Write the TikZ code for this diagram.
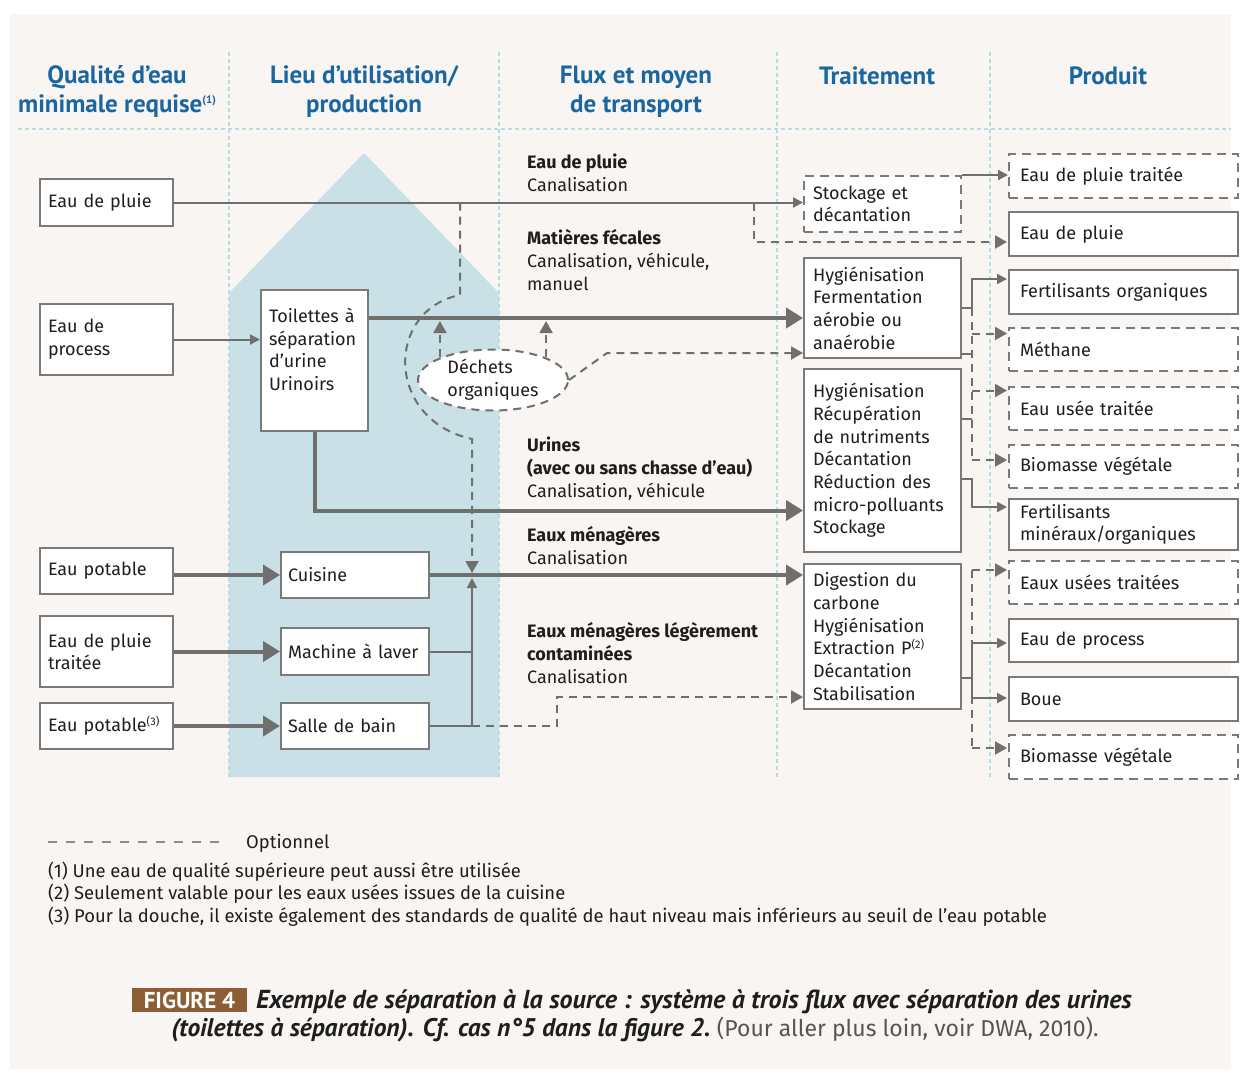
\documentclass[tikz,border=0pt]{standalone}
\usepackage{fontspec}
\setmainfont{Fira Sans}
\newfontfamily\hdfont{PT Sans}
\usetikzlibrary{arrows.meta,shapes.geometric}
\definecolor{bgc}{HTML}{F8F5F2}
\definecolor{housec}{HTML}{C9E1E6}
\definecolor{hdblue}{HTML}{1A66A0}
\definecolor{sepc}{HTML}{B8DCE4}
\definecolor{linec}{HTML}{6F6F6F}
\definecolor{boxc}{HTML}{7A7A7A}
\definecolor{txt}{HTML}{1E1E1E}
\definecolor{figbrown}{HTML}{8C5E35}
\definecolor{capgray}{HTML}{555555}
\newcommand\smallsup[2]{\raisebox{#2}{\fontsize{11}{11}\selectfont #1}}
\begin{document}
\begin{tikzpicture}[x=1pt,y=-1pt,
  every node/.style={text=txt},
  bodyf/.style={font=\fontsize{18}{22.7}\selectfont},
  box/.style={draw=boxc, line width=2pt, fill=white, anchor=north west, align=left, inner xsep=8pt, inner ysep=0pt, bodyf},
  tbox/.style={box, inner xsep=9pt, text width=139pt},
  pbox/.style={box, inner xsep=11pt, text width=207pt},
  pdbox/.style={pbox, dash pattern=on 9pt off 6pt},
  thinl/.style={draw=linec, line width=2pt},
  thickl/.style={draw=linec, line width=4pt},
  dsh/.style={draw=linec, line width=2pt, dash pattern=on 8pt off 6pt},
  thinarr/.style={thinl, -{Triangle[length=10pt,width=10pt]}},
  thickarr/.style={thickl, -{Triangle[length=17pt,width=20pt]}},
  dasharr/.style={dsh, -{Triangle[length=12pt,width=13pt]}},
  sep/.style={draw=sepc, line width=1.2pt, dash pattern=on 4pt off 3pt},
  hd/.style={font=\hdfont\bfseries\fontsize{25}{29}\selectfont, text=hdblue, align=center, anchor=base},
  flux/.style={anchor=base west, align=left, bodyf, inner sep=0pt},
  fnote/.style={anchor=base west, align=left, inner sep=0pt, font=\fontsize{18.4}{22.5}\selectfont}
]
% background
\fill[white] (0,0) rectangle (1241,1079);
\fill[bgc] (10,14) rectangle (1231,1069);
% house
\fill[housec] (229,777) -- (229,293) -- (364,153) -- (499,293) -- (499,777) -- cycle;
% separators
\draw[sep] (229,52) -- (229,778);
\draw[sep] (499,52) -- (499,778);
\draw[sep] (777,52) -- (777,778);
\draw[sep] (990,52) -- (990,778);
\draw[sep] (18,129) -- (1231,129);

% headers (base = last line)
\node[hd] (h1) at (117,112.5) {Qualité d’eau\\minimale requise\smallsup{(1)}{9pt}};
\node[hd] (h2) at (364,112.5) {Lieu d’utilisation/\\production};
\node[hd] (h3) at (636,112.5) {Flux et moyen\\de transport};
\node[hd] (h4) at (877,84) {Traitement};
\node[hd] (h5) at (1108,84) {Produit};

% left boxes
\node[box, text width=117pt, minimum height=47pt] (l1) at (39,178) {\mbox{Eau de pluie}};
\node[box, text width=117pt, minimum height=71pt] (l2) at (39,303) {Eau de\\process};
\node[box, text width=117pt, minimum height=46pt] (l3) at (39,547) {\mbox{Eau potable}};
\node[box, text width=117pt, minimum height=71pt] (l4) at (39,615) {Eau de pluie\\traitée};
\node[box, text width=117pt, minimum height=46pt] (l5) at (39,702) {\mbox{Eau potable\smallsup{(3)}{6pt}}};

% middle boxes
\node[box, text width=91pt, minimum height=141pt] (toil) at (260,289) {Toilettes à\\séparation\\d’urine\\Urinoirs\\\mbox{}};
\node[box, inner xsep=7pt, text width=134pt, minimum height=46pt] (cuis) at (280,551) {Cuisine};
\node[box, inner xsep=7pt, text width=134pt, minimum height=47pt] (mach) at (280,627) {\mbox{Machine à laver}};
\node[box, inner xsep=7pt, text width=134pt, minimum height=46pt] (sal) at (280,702) {\mbox{Salle de bain}};

% treatment boxes
\node[tbox, dash pattern=on 9pt off 6pt, minimum height=56pt] (stock) at (803,175) {Stockage et\\décantation};
\node[tbox, minimum height=100pt] (hyg1) at (803,257) {Hygiénisation\\Fermentation\\aérobie ou\\anaérobie};
\node[tbox, minimum height=183pt] (hyg2) at (803,368) {Hygiénisation\\Récupération\\de nutriments\\Décantation\\Réduction des\\micro-polluants\\Stockage};
\node[tbox, minimum height=145pt] (dig) at (803,563) {Digestion du\\carbone\\Hygiénisation\\Extraction P\smallsup{(2)}{6pt}\\Décantation\\Stabilisation};

% product boxes
\node[pdbox, minimum height=44pt] (p1) at (1008,153) {\mbox{Eau de pluie traitée}};
\node[pbox, minimum height=44pt] (p2) at (1008,211) {Eau de pluie};
\node[pbox, minimum height=44pt] (p3) at (1008,269) {\mbox{Fertilisants organiques}};
\node[pdbox, minimum height=43pt] (p4) at (1008,327) {Méthane};
\node[pdbox, minimum height=43pt] (p5) at (1008,386) {\mbox{Eau usée traitée}};
\node[pdbox, minimum height=43pt] (p6) at (1008,444) {\mbox{Biomasse végétale}};
\node[pbox, minimum height=51pt] (p7) at (1008,498) {Fertilisants\\minéraux/organiques};
\node[pdbox, minimum height=43pt] (p8) at (1008,560) {\mbox{Eaux usées traitées}};
\node[pbox, minimum height=43pt] (p9) at (1008,618) {\mbox{Eau de process}};
\node[pbox, minimum height=44pt] (p10) at (1008,676) {Boue};
\node[pdbox, minimum height=44pt] (p11) at (1008,734) {\mbox{Biomasse végétale}};

% ellipse
\node[ellipse, draw=linec, line width=2pt, dash pattern=on 8pt off 6pt, fill=white, minimum width=150pt, minimum height=61pt, inner sep=0pt, align=left, bodyf] (dech) at (493,380) {Déchets\\organiques};

% flux labels (base = last line)
\node[flux] (f1) at (527,191) {\textbf{Eau de pluie}\\Canalisation};
\node[flux] (f2) at (527,290) {\textbf{Matières fécales}\\Canalisation, véhicule,\\manuel};
\node[flux] (f3) at (527,497) {\textbf{Urines}\\\textbf{(avec ou sans chasse d’eau)}\\Canalisation, véhicule};
\node[flux] (f4) at (527,564) {\textbf{Eaux ménagères}\\Canalisation};
\node[flux] (f5) at (527,683) {\textbf{Eaux ménagères légèrement}\\\textbf{contaminées}\\Canalisation};

% helper coordinates
\coordinate (xA) at (460,0);
\coordinate (xB) at (472,0);
\coordinate (xC) at (557,0);
\coordinate (xD) at (754,0);
\coordinate (xT) at (972,0);
\coordinate (cA) at (460,295);
\coordinate (cB) at (472,439);
\coordinate (kk) at (607,353);
\coordinate (fec) at ([yshift=-29pt]toil.north east);
\coordinate (uend) at ([yshift=-50pt]hyg2.west);
\coordinate (dg) at ([yshift=-134pt]dig.north west);
\coordinate (p2in) at ([yshift=-8pt]p2.west);
\coordinate (p3in) at ([yshift=13pt]p3.west);
\coordinate (p4in) at ([yshift=16pt]p4.west);
\coordinate (p5in) at ([yshift=18pt]p5.west);
\coordinate (p6in) at ([yshift=6.5pt]p6.west);
\coordinate (p7in) at ([yshift=17.5pt]p7.west);
\coordinate (p8in) at ([yshift=12.5pt]p8.west);
\coordinate (p9in) at ([yshift=-2.5pt]p9.west);
\coordinate (p10in) at ([yshift=1pt]p10.west);
\coordinate (p11in) at ([yshift=9pt]p11.west);
\coordinate (h1b) at ([yshift=5pt]hyg1.south east);
\coordinate (h2a) at ([yshift=41.5pt]hyg2.east);
\coordinate (h2b) at ([yshift=-18.5pt]hyg2.east);
\coordinate (d1) at ([yshift=-41.5pt]dig.east);

% connectors: rain water
\draw[thinarr] (l1.east) -- (l1.east -| stock.west);
\draw[dasharr] (l1.east -| xA) -- (cA) .. controls (385,310) and (385,420) .. (cB) -- ([yshift=2pt]cuis.east -| xB);
\draw[dasharr] (l1.east -| xD) -- (xD |- p2in) -- ([xshift=-1pt]p2in);
\draw[thinarr] (stock.north east) -- (stock.north east -| p1.west);

% toilets
\draw[thinarr] (l2.east) -- (l2.east -| toil.west);
\draw[thickarr] (fec) -- (fec -| hyg1.west);
\draw[thickarr, line join=miter] (toil.south) |- (uend);

% organic waste
\draw[dasharr, shorten >=3pt] (dech.157) -- (dech.157 |- fec);
\draw[dasharr, shorten >=3pt] (dech.23) -- (dech.23 |- fec);
\draw[dasharr] (dech.east) -- (kk) -- (kk -| hyg1.west);

% kitchen etc.
\draw[thickarr] (l3.east |- cuis.west) -- (cuis.west);
\draw[thickarr] (l4.east |- mach.west) -- (mach.west);
\draw[thickarr] (l5.east |- sal.west) -- (sal.west);
\draw[thickarr] (cuis.east) -- (cuis.east -| dig.west);
\draw[thinl] (mach.east) -- (mach.east -| xB);
\draw[thinarr] (sal.east) -- (sal.east -| xB) -- ([yshift=-3pt]cuis.east -| xB);
\draw[dasharr] (sal.east) -- (sal.east -| xC) -- (xC |- dg) -- (dg);

% treatment -> products
\draw[thinarr] (hyg1.east) -- (hyg1.east -| xT) |- ([xshift=-1pt]p3in);
\draw[thinl] (h1b) -- (h1b -| xT);
\draw[dsh] (hyg1.east -| xT) -- (xT |- p6in);
\draw[dasharr] (xT |- p4in) -- ([xshift=-1pt]p4in);
\draw[dasharr] (xT |- p5in) -- ([xshift=-1pt]p5in);
\draw[dasharr] (xT |- p6in) -- ([xshift=-1pt]p6in);
\draw[thinl] (h2a) -- (h2a -| xT);
\draw[thinarr] (h2b) -- (h2b -| xT) |- ([xshift=-1pt]p7in);
\draw[thinl] (d1) -- (d1 -| xT);
\draw[thinl] (xT |- p9in) -- (xT |- p10in);
\draw[thinarr] (xT |- p9in) -- ([xshift=-1pt]p9in);
\draw[thinarr] (xT |- p10in) -- ([xshift=-1pt]p10in);
\draw[dsh] (xT |- p8in) -- (xT |- p11in);
\draw[dasharr] (xT |- p8in) -- ([xshift=-1pt]p8in);
\draw[dasharr] (xT |- p11in) -- ([xshift=-1pt]p11in);

% legend and notes
\coordinate (lg1) at (48,842);
\coordinate (lg2) at (225,842);
\draw[draw=linec!80, line width=2pt, dash pattern=on 9pt off 9pt] (lg1) -- (lg2);
\node[fnote] (opt) at (246,848) {Optionnel};
\node[fnote] (fn) at (48,922) {(1) Une eau de qualité supérieure peut aussi être utilisée\\(2) Seulement valable pour les eaux usées issues de la cuisine\\(3) Pour la douche, il existe également des standards de qualité de haut niveau mais inférieurs au seuil de l’eau potable};

% caption
\node[fill=figbrown, text=white, inner sep=0pt, minimum width=115pt, minimum height=24pt, font=\hdfont\bfseries\fontsize{23}{26}\selectfont] (fig) at (189.5,1000) {FIGURE 4};
\node[anchor=base west, inner sep=0pt, font=\hdfont\bfseries\itshape\fontsize{26}{28}\selectfont] (cap1) at (256,1008) {Exemple de séparation à la source : système à trois flux avec séparation des urines};
\node[anchor=base, inner sep=0pt, font=\hdfont\fontsize{25.5}{28}\selectfont] (cap2) at (635,1036) {\bfseries\itshape (toilettes à séparation). Cf. cas n°5 dans la figure 2.\ \normalfont\fontsize{23}{28}\selectfont\color{capgray}(Pour aller plus loin, voir DWA, 2010).};
\end{tikzpicture}
\end{document}
